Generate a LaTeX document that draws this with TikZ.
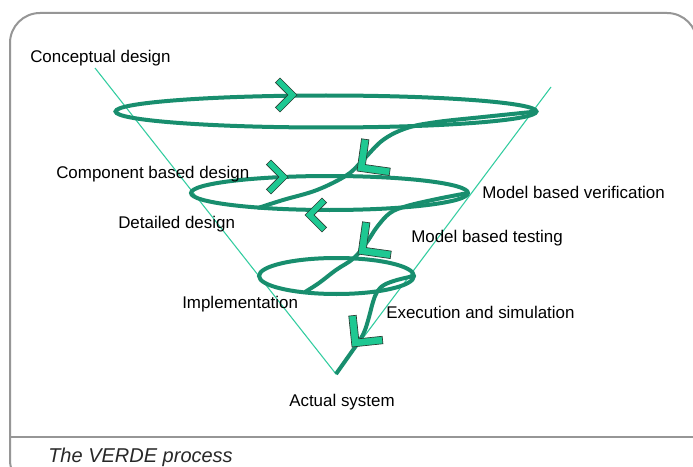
\documentclass[tikz,border=0pt]{standalone}
\usepackage{fontspec}
\setmainfont{Liberation Sans}
\definecolor{framecol}{RGB}{150,150,150}
\definecolor{conecol}{RGB}{50,205,160}
\definecolor{spiralcol}{RGB}{24,142,110}
\definecolor{chevcol}{RGB}{30,200,146}
\definecolor{chevline}{RGB}{40,60,50}
\tikzset{
  pics/chev/.style 2 args={code={
    \filldraw[chevfill] (0,0) -- (-#1,#1) -- ({-#1-#2/sqrt(2)},{#1-#2/sqrt(2)}) -- ({-#2*sqrt(2)},0)
      -- ({-#1-#2/sqrt(2)},{-#1+#2/sqrt(2)}) -- (-#1,-#1) -- cycle;
  }}
}
\begin{document}
\begin{tikzpicture}[x=0.75pt,y=-0.75pt,
  cone/.style={draw=conecol, line width=0.8pt},
  spiral/.style={draw=spiralcol, line width=3pt},
  chevfill/.style={fill=chevcol, draw=chevline, line width=0.5pt, line join=miter},
  lbl/.style={anchor=base west, inner sep=0pt, font=\fontsize{12.7pt}{15pt}\selectfont},
]
\useasboundingbox (0,0) rectangle (693,467);
\clip (0,0) rectangle (693,467);
\fill[white] (0,0) rectangle (693,467);
% frame
\draw[framecol, line width=1.5pt, rounded corners=22.5pt] (10,13) rectangle (697,490);
\draw[framecol, line width=1.5pt] (10,437) -- (697,437);
% cone
\coordinate (apex) at (336,374);
\coordinate (LT) at (95,68);
\coordinate (RT) at (551,87);
\draw[cone] (LT) -- (apex) -- (RT);
% ellipses
\draw[spiral] (326,111.5) ellipse [x radius=210.5, y radius=16];
\draw[spiral] (329.5,193) ellipse [x radius=138.5, y radius=17];
\draw[spiral] (336.5,276) ellipse [x radius=77.5, y radius=18];
% spiral descents
\draw[spiral] plot[smooth, tension=0.6] coordinates {(536.5,111.5) (483,117) (437,122) (407,128) (383,140) (363,160) (347,175) (317,190) (283,200) (258,208)};
\draw[spiral] plot[smooth, tension=0.6] coordinates {(468,193) (437,199) (407,206) (390,213) (377,227) (367,242) (354,258) (336,270) (319,283) (305,292)};
\draw[spiral] plot[smooth, tension=0.6] coordinates {(414,276) (397,280) (384,285) (377,292) (373,302) (369,317) (365,330) (360,340) (353,350) (apex)};
% chevrons
\pic[rotate=0] at (297,95) {chev={17}{6.5}};
\pic[rotate=0] at (288,177) {chev={17}{6.5}};
\pic[rotate=180] at (305,215) {chev={17}{6.5}};
\pic[rotate=217] at (357,171) {chev={23}{7.5}};
\pic[rotate=217] at (358,254) {chev={23}{7.5}};
\pic[rotate=231] at (352,347) {chev={22}{7.5}};
% labels
\node[lbl] (conc) at (30,63) {Conceptual design};
\node[lbl] (comp) at (56,178) {Component based design};
\node[lbl] (det) at (118,228) {Detailed design};
\node[lbl] (mbv) at (482,198) {Model based verification};
\node[lbl] (mbt) at (411,242) {Model based testing};
\node[lbl] (impl) at (182,308) {Implementation};
\node[lbl] (exec) at (386,318) {Execution and simulation};
\node[lbl] (act) at (289,406) {Actual system};
\node[anchor=base west, inner sep=0pt, text={rgb,255:red,40;green,40;blue,40}, font=\fontsize{15pt}{18pt}\selectfont\itshape] (cap) at (48,462) {The VERDE process};
\end{tikzpicture}
\end{document}
